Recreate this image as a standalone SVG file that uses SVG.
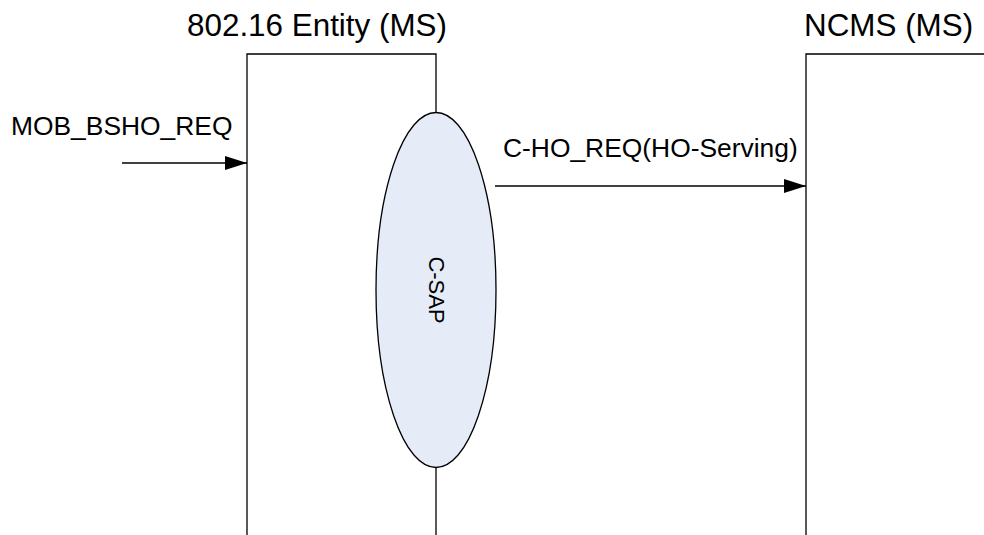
<svg xmlns="http://www.w3.org/2000/svg" width="984" height="535" viewBox="0 0 984 535">
  <defs>
    <style>
      .ln { fill: none; stroke: #000; stroke-width: 1.3; }
      .t { font-family: "Liberation Sans", Arial, sans-serif; fill: #000; }
      .title { font-size: 31.4px; }
      .lbl { font-size: 26.4px; }
      .sap { font-size: 22px; }
    </style>
    <marker id="arr" markerWidth="22" markerHeight="14" refX="22" refY="7" orient="auto" markerUnits="userSpaceOnUse">
      <path d="M0,0 L22,7 L0,14 Z" fill="#000"/>
    </marker>
  </defs>
  <rect width="984" height="535" fill="#fff"/>

  <g id="entity">
    <path class="ln" d="M247,535 V54 H436 V112.5"/>
    <path class="ln" d="M436,467 V535"/>
    <text class="t title" x="317" y="36" text-anchor="middle">802.16 Entity (MS)</text>
  </g>

  <g id="ncms">
    <path class="ln" d="M806,535 V54 H984"/>
    <text class="t title" x="804" y="36">NCMS (MS)</text>
  </g>

  <g id="csap">
    <ellipse cx="436" cy="290" rx="60" ry="177.5" fill="#E6ECF7" stroke="#000" stroke-width="1.3"/>
    <text class="t sap" transform="translate(429,290) rotate(90)" text-anchor="middle">C-SAP</text>
  </g>

  <g id="connectors">
    <line class="ln" x1="122" y1="163" x2="247" y2="163" marker-end="url(#arr)"/>
    <line class="ln" x1="495" y1="186" x2="806" y2="186" marker-end="url(#arr)"/>
  </g>

  <g id="labels">
    <text class="t lbl" x="11" y="135">MOB_BSHO_REQ</text>
    <text class="t lbl" x="503" y="157">C-HO_REQ(HO-Serving)</text>
  </g>
</svg>
